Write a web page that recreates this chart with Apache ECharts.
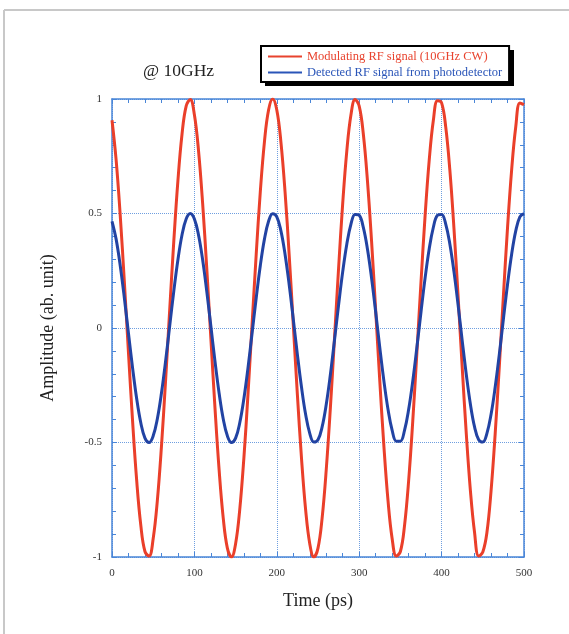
<!DOCTYPE html>
<html>
<head>
<meta charset="utf-8">
<script src="https://cdn.jsdelivr.net/npm/echarts@6/dist/echarts.min.js"></script>
<style>
  html, body {margin: 0; padding: 0; background: #ffffff;}
  #chart {width: 569px; height: 634px;}
</style>
</head>
<body>
<div id="chart"></div>
<script>
// time samples (ps), one every 5 ps
const times = [];
for (let t = 0; t <= 500; t += 5) times.push(t);

// Modulating RF signal (10GHz CW)
const rfSignal = [
  0.907, 0.734, 0.491, 0.201, -0.109, -0.408, -0.668, -0.863, -0.976, -0.996,
  -0.919, -0.755, -0.518, -0.231, 0.078, 0.379, 0.644, 0.847, 0.969, 0.998,
  0.931, 0.775, 0.544, 0.261, -0.047, -0.350, -0.620, -0.830, -0.961, -1.000,
  -0.942, -0.794, -0.570, -0.291, 0.016, 0.321, 0.596, 0.813, 0.952, 1.000,
  0.952, 0.812, 0.595, 0.320, 0.015, -0.292, -0.570, -0.794, -0.942, -1.000,
  -0.961, -0.830, -0.619, -0.350, -0.046, 0.262, 0.545, 0.775, 0.931, 0.998,
  0.969, 0.847, 0.644, 0.379, 0.077, -0.232, -0.518, -0.755, -0.920, -0.996,
  -0.976, -0.863, -0.667, -0.407, -0.108, 0.201, 0.492, 0.734, 0.907, 0.992,
  0.983, 0.878, 0.690, 0.435, 0.139, -0.171, -0.464, -0.712, -0.893, -0.996,
  -0.978, -0.893, -0.712, -0.463, -0.170, 0.140, 0.437, 0.691, 0.879, 0.983,
  0.975
];

// Detected RF signal from photodetector
const detSignal = [
  0.466, 0.388, 0.272, 0.131, -0.024, -0.175, -0.310, -0.415, -0.481, -0.500,
  -0.471, -0.397, -0.285, -0.146, 0.008, 0.161, 0.298, 0.407, 0.476, 0.500,
  0.476, 0.406, 0.298, 0.160, 0.008, -0.146, -0.285, -0.397, -0.471, -0.500,
  -0.481, -0.415, -0.310, -0.175, -0.023, 0.131, 0.273, 0.388, 0.466, 0.499,
  0.485, 0.424, 0.322, 0.190, 0.039, -0.116, -0.259, -0.378, -0.460, -0.498,
  -0.488, -0.432, -0.334, -0.204, -0.054, 0.101, 0.246, 0.367, 0.454, 0.496,
  0.492, 0.439, 0.345, 0.218, 0.070, -0.086, -0.232, -0.356, -0.447, -0.494,
  -0.494, -0.447, -0.356, -0.232, -0.085, 0.070, 0.219, 0.346, 0.440, 0.492,
  0.496, 0.454, 0.367, 0.246, 0.101, -0.055, -0.204, -0.334, -0.432, -0.488,
  -0.498, -0.460, -0.378, -0.259, -0.116, 0.039, 0.190, 0.322, 0.424, 0.485,
  0.499
];

const xTicks = [0, 100, 200, 300, 400, 500];
const yTicks = [-1, -0.5, 0, 0.5, 1];

const serif = '"Liberation Serif", "DejaVu Serif", serif';
const axisBlue = '#4a86d8';
const gridBlue = '#6f9fe0';

const chart = echarts.init(document.getElementById('chart'));

const baseX = {
  type: 'value',
  min: xTicks[0],
  max: xTicks[xTicks.length - 1],
  interval: 100,
  axisLine: {show: true, onZero: false, lineStyle: {color: axisBlue, width: 1.5}},
  axisTick: {show: true, inside: true, length: 5, lineStyle: {color: axisBlue}},
  minorTick: {show: true, splitNumber: 5, length: 4, lineStyle: {color: axisBlue}},
  splitLine: {show: false}
};
const baseY = {
  type: 'value',
  min: yTicks[0],
  max: yTicks[yTicks.length - 1],
  interval: 0.5,
  axisLine: {show: true, onZero: false, lineStyle: {color: axisBlue, width: 1.5}},
  axisTick: {show: true, inside: true, length: 5, lineStyle: {color: axisBlue}},
  minorTick: {show: true, splitNumber: 5, length: 4, lineStyle: {color: axisBlue}},
  splitLine: {show: false}
};

const option = {
  animation: false,
  backgroundColor: '#ffffff',
  title: {
    text: '@ 10GHz',
    left: 138,
    top: 57,
    textStyle: {fontFamily: serif, fontSize: 17.5, fontWeight: 'normal', color: '#222'}
  },
  legend: {
    left: 261,
    top: 46,
    orient: 'vertical',
    icon: 'rect',
    itemWidth: 34,
    itemHeight: 2,
    itemGap: 3,
    padding: [4, 7, 3, 7],
    backgroundColor: '#ffffff',
    borderColor: '#000000',
    borderWidth: 2,
    borderRadius: 0,
    textStyle: {fontFamily: serif, fontSize: 12.5},
    data: [
      {name: 'Modulating RF signal (10GHz CW)', textStyle: {color: '#e8432e'}},
      {name: 'Detected RF signal from photodetector', textStyle: {color: '#2a55b8'}}
    ]
  },
  graphic: [
    {type: 'line', shape: {x1: 4, y1: 10, x2: 4, y2: 634}, style: {stroke: '#c8c8c8', lineWidth: 2}, silent: true},
    {type: 'line', shape: {x1: 4, y1: 10, x2: 569, y2: 10}, style: {stroke: '#c8c8c8', lineWidth: 2}, silent: true},
    // drop shadow behind the legend box
    {type: 'rect', shape: {x: 265, y: 50, width: 249, height: 36}, style: {fill: '#000000'}, z: -1, silent: true}
  ],
  grid: {left: 112, right: 45, top: 99, bottom: 77},
  xAxis: [
    Object.assign({}, baseX, {
      position: 'bottom',
      name: 'Time (ps)',
      nameLocation: 'middle',
      nameGap: 35,
      nameTextStyle: {fontFamily: serif, fontSize: 18, color: '#222'},
      axisLabel: {fontFamily: serif, fontSize: 11, color: '#333', margin: 11},
      splitLine: {show: true, lineStyle: {color: gridBlue, type: 'dotted', width: 1}}
    }),
    Object.assign({}, baseX, {position: 'top', axisLabel: {show: false}})
  ],
  yAxis: [
    Object.assign({}, baseY, {
      position: 'left',
      name: 'Amplitude (ab. unit)',
      nameLocation: 'middle',
      nameGap: 55,
      nameTextStyle: {fontFamily: serif, fontSize: 18, color: '#222'},
      axisLabel: {fontFamily: serif, fontSize: 11, color: '#333', margin: 10},
      splitLine: {show: true, lineStyle: {color: gridBlue, type: 'dotted', width: 1}}
    }),
    Object.assign({}, baseY, {position: 'right', axisLabel: {show: false}})
  ],
  series: [
    {
      name: 'Modulating RF signal (10GHz CW)',
      type: 'line',
      smooth: 0.4,
      showSymbol: false,
      data: times.map((t, i) => [t, rfSignal[i]]),
      itemStyle: {color: '#e8432e'},
      lineStyle: {color: '#ea3f2a', width: 3}
    },
    {
      name: 'Detected RF signal from photodetector',
      type: 'line',
      smooth: 0.4,
      showSymbol: false,
      data: times.map((t, i) => [t, detSignal[i]]),
      itemStyle: {color: '#2a55b8'},
      lineStyle: {color: '#2243a3', width: 3}
    }
  ]
};

chart.setOption(option);
</script>
</body>
</html>
